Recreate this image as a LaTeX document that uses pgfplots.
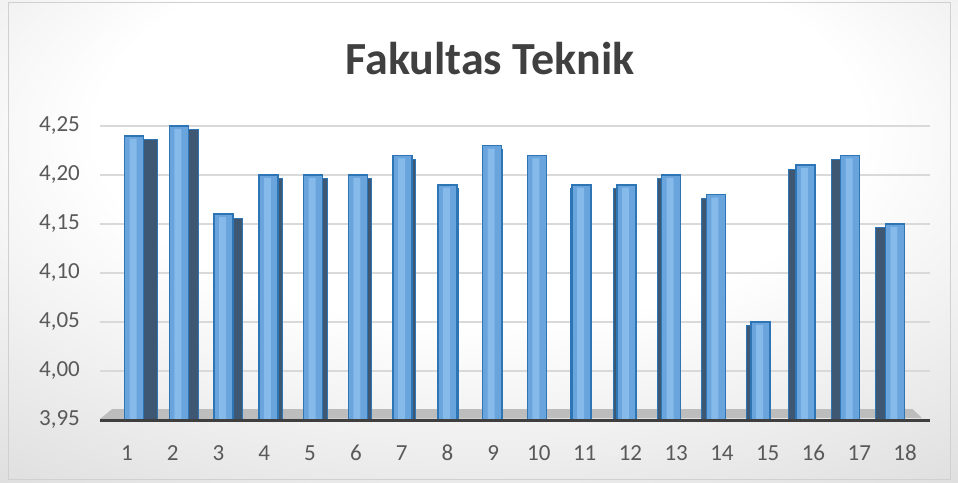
\documentclass[border=0pt]{standalone}
\usepackage{pgfplots}
\pgfplotsset{compat=1.18}
\usepackage{fontspec}
\setmainfont{Carlito}

\definecolor{titlegray}{HTML}{404040}
\definecolor{ticklab}{HTML}{595959}
\definecolor{gridc}{HTML}{D9D9D9}
\definecolor{barfront}{HTML}{6AA4DC}
\definecolor{barlight}{HTML}{8CC0EE}
\definecolor{baredge}{HTML}{2E75B6}
\definecolor{barside}{HTML}{3E5772}
\definecolor{floorc}{HTML}{BDBDBD}
\definecolor{axisc}{HTML}{3F3F3F}
\definecolor{bgout}{HTML}{C6C6C6}
\definecolor{framec}{HTML}{D0D0D0}

\pgfdeclareradialshading{chartbg}{\pgfpoint{0bp}{15bp}}{color(0bp)=(white); color(20bp)=(white); color(58bp)=(bgout); color(85bp)=(bgout)}

\begin{document}
\begin{tikzpicture}[x=1pt,y=1pt]
\shade[shading=chartbg] (0,0) rectangle (958,482);
\draw[framec, line width=1pt] (8,3) rectangle (950,479);
\node[anchor=base, font=\bfseries\fontsize{46}{52}\selectfont, text=titlegray] at (490,407) {Fakultas Teknik};

\begin{axis}[
 at={(100pt,62pt)}, anchor=south west,
 scale only axis, width=830pt, height=294pt,
 xmin=0.41, xmax=18.546,
 ymin=3.95, ymax=4.25,
 clip mode=individual,
 axis line style={draw=none},
 major tick length=0pt,
 xtick={1,...,18},
 ytick={3.95,4,4.05,4.1,4.15,4.2,4.25},
 ymajorgrids,
 grid style={gridc, line width=1.5pt},
 tick label style={font=\fontsize{23}{27}\selectfont, text=ticklab},
 yticklabel style={anchor=east, inner sep=0pt, xshift=-20pt,
   /pgf/number format/.cd, fixed, fixed zerofill, precision=2, use comma},
 xticklabel style={anchor=base, inner sep=0pt, yshift=-40pt},
 /pgf/number format/assume math mode=true,
]

% floor
\fill[floorc] (axis cs:0.41,3.951) -- (axis cs:0.67,3.961) -- (axis cs:18.17,3.961) -- (axis cs:18.37,3.952) -- cycle;

% side faces
\addplot[ybar, bar width=19pt, bar shift=0pt, fill=barside, draw=baredge, line width=1pt] coordinates {
 (1.459,4.236) (2.350,4.246) (3.306,4.156) (4.196,4.196) (5.175,4.196) (6.131,4.196)
 (7.088,4.216) (8.044,4.186) (9.000,4.226)
 (10.890,4.186) (11.847,4.186) (12.804,4.196) (13.760,4.176) (14.738,4.046)
 (15.672,4.206) (16.606,4.216) (17.562,4.146)
};

% front faces
\addplot[ybar, bar width=19pt, bar shift=0pt, draw=baredge, line width=1.5pt, fill=barfront] coordinates {
 (1.153,4.24) (2.131,4.25) (3.109,4.16) (4.087,4.20) (5.066,4.20) (6.044,4.20)
 (7.022,4.22) (8.000,4.19) (8.978,4.23) (9.956,4.22) (10.934,4.19) (11.913,4.19)
 (12.891,4.20) (13.869,4.18) (14.847,4.05) (15.825,4.21) (16.803,4.22) (17.781,4.15)
};

% lighter band on the front faces
\addplot[ybar, bar width=7pt, bar shift=-1pt, draw=none, fill=barlight, fill opacity=0.8] coordinates {
 (1.153,4.237) (2.131,4.247) (3.109,4.157) (4.087,4.197) (5.066,4.197) (6.044,4.197)
 (7.022,4.217) (8.000,4.187) (8.978,4.227) (9.956,4.217) (10.934,4.187) (11.913,4.187)
 (12.891,4.197) (13.869,4.177) (14.847,4.047) (15.825,4.207) (16.803,4.217) (17.781,4.147)
};

\draw[axisc, line width=3pt] (axis cs:0.41,3.95) -- (axis cs:18.546,3.95);
\end{axis}
\end{tikzpicture}
\end{document}
